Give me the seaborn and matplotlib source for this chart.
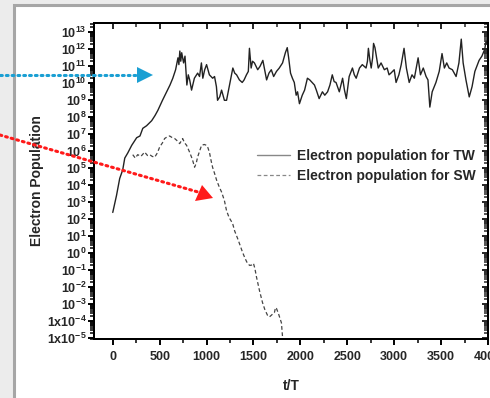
import numpy as np
import pandas as pd
import matplotlib
matplotlib.use("Agg")
import matplotlib.pyplot as plt
import seaborn as sns
from matplotlib.lines import Line2D
from matplotlib.patches import Rectangle, Polygon
from matplotlib.ticker import FixedLocator, FixedFormatter, MultipleLocator, NullFormatter

# ---- data: time in wave periods, log10 of electron population ----
tw_t = [0, 40, 74, 106, 128, 160, 202, 255, 290, 320, 360, 415, 450, 480, 530, 575, 610, 640,
        670, 695, 705, 715, 725, 735, 755, 770, 790, 805, 820, 840, 870, 905, 925, 945, 960,
        980, 1000, 1030, 1065, 1085, 1105, 1117, 1140, 1160, 1190, 1213, 1245, 1280, 1300,
        1320, 1350, 1380, 1400, 1425, 1445, 1457, 1475, 1490, 1510, 1545, 1570, 1600, 1640,
        1665, 1690, 1715, 1745, 1775, 1810, 1840, 1860, 1875, 1895, 1915, 1935, 1955, 1970,
        1990, 2020, 2045, 2075, 2100, 2125, 2150, 2170, 2200, 2235, 2260, 2290, 2315, 2340,
        2360, 2380, 2415, 2450, 2470, 2490, 2520, 2555, 2575, 2595, 2630, 2660, 2700, 2715,
        2725, 2740, 2755, 2770, 2780, 2795, 2810, 2830, 2860, 2895, 2925, 2945, 2965, 3000,
        3020, 3050, 3075, 3105, 3130, 3160, 3190, 3215, 3235, 3255, 3280, 3310, 3340, 3360,
        3380, 3405, 3445, 3480, 3510, 3535, 3560, 3585, 3620, 3660, 3690, 3715, 3735, 3765,
        3800, 3830, 3860, 3905, 3935, 3965, 3980, 4000]
tw_log = [2.4, 3.4, 4.4, 4.9, 5.6, 5.9, 6.35, 6.8, 6.9, 7.35, 7.5, 7.8, 8.1, 8.4, 9.0, 9.5, 9.9, 10.3,
          10.8, 11.5, 11.1, 11.9, 11.3, 11.8, 11.2, 11.6, 9.9, 10.5, 10.2, 9.6, 10.3, 10.6, 10.4, 11.2, 10.3,
          10.8, 11.1, 10.5, 10.3, 10.4, 9.8, 9.0, 9.2, 9.6, 9.0, 9.0, 9.9, 10.9, 10.6,
          10.5, 10.2, 10.05, 10.2, 10.5, 10.7, 12.06, 10.9, 11.3, 11.2, 10.8, 11.0, 11.35, 10.2,
          10.6, 10.8, 10.4, 10.7, 10.9, 11.2, 11.8, 12.1, 11.5, 10.6, 10.3, 10.05, 9.3, 9.5,
          8.8, 9.3, 9.6, 10.3, 10.2, 10.05, 9.9, 9.6, 9.1, 9.5, 9.3, 9.5, 9.9, 10.5,
          10.1, 10.05, 9.5, 10.3, 9.6, 9.1, 10.4, 10.9, 10.5, 10.3, 10.9, 11.1, 10.9, 11.3,
          12.06, 11.4, 10.9, 11.5, 12.35, 12.1, 11.6, 10.9, 11.2, 10.8, 10.9, 10.5, 10.6, 10.8,
          10.05, 10.5, 11.1, 12.06, 10.9, 10.05, 10.5, 10.3, 10.9, 11.5, 10.5, 10.9, 10.4, 10.2,
          8.6, 9.5, 10.05, 10.7, 11.75, 10.9, 11.2, 10.9, 10.8, 10.4, 11.2, 12.6, 11.2, 10.2,
          9.2, 9.8, 10.7, 11.35, 11.6, 12.0, 12.5, 12.2]

sw_t = [213, 240, 266, 300, 340, 370, 394, 420, 447, 475, 500, 530, 553, 580, 606, 635, 660, 690,
        713, 730, 745, 765, 787, 815, 840, 855, 872, 890, 904, 925, 947, 975, 1000, 1015, 1032,
        1050, 1064, 1085, 1107, 1135, 1160, 1190, 1213, 1240, 1277, 1300, 1330, 1355, 1383,
        1410, 1436, 1460, 1479, 1500, 1515, 1532, 1564, 1596, 1620, 1649, 1670, 1691, 1710,
        1723, 1735, 1745, 1766, 1798, 1810, 1820]
sw_log = [5.8, 5.6, 5.8, 5.7, 5.95, 5.75, 5.8, 5.7, 5.65, 5.9, 6.25, 6.5, 6.75, 6.85, 6.9, 6.8, 6.75, 6.6,
          6.45, 6.6, 6.75, 6.5, 6.35, 6.0, 5.65, 5.4, 5.06, 5.3, 5.65, 6.0, 6.35, 6.4, 6.35, 6.2, 5.9,
          5.4, 5.06, 4.7, 4.3, 3.9, 3.6, 3.1, 2.5, 2.1, 1.76, 1.3, 0.88, 0.5, 0.06,
          -0.3, -0.6, -0.72, -0.7, -0.6, -0.9, -1.4, -2.2, -2.9, -3.3, -3.65, -3.75, -3.65, -3.55,
          -3.5, -3.2, -3.25, -3.55, -4.1, -4.95, -5.3]

y_exponents = list(range(13, -6, -1))
y_labels = [r"$10^{%d}$" % e for e in range(13, -4, -1)] + [r"$1x10^{-4}$", r"$1x10^{-5}$"]
x_ticks = [0, 500, 1000, 1500, 2000, 2500, 3000, 3500, 4000]

# ---- style ----
sns.set_style("ticks")
plt.rcParams["font.family"] = ["Liberation Sans", "DejaVu Sans"]
plt.rcParams["font.weight"] = "bold"
plt.rcParams["mathtext.fontset"] = "custom"
plt.rcParams["mathtext.rm"] = "Liberation Sans:bold"
plt.rcParams["mathtext.it"] = "Liberation Sans:bold"
plt.rcParams["mathtext.bf"] = "Liberation Sans:bold"
plt.rcParams["mathtext.default"] = "rm"

tw = pd.DataFrame({"t": tw_t, "pop": np.power(10.0, tw_log)})
sw = pd.DataFrame({"t": sw_t, "pop": np.power(10.0, sw_log)})

fig = plt.figure(figsize=(4.9, 3.98), dpi=100)
fig.patch.set_facecolor("#ececec")

# slide panel behind the chart
fig.add_artist(Rectangle((14 / 490, -0.05), 1.1, (393 + 20) / 398, transform=fig.transFigure,
                         facecolor="white", edgecolor="#a6a6a6", linewidth=2.2, zorder=0))

ax = fig.add_axes([94 / 490, 59 / 398, 394 / 490, 316 / 398])
ax.set_facecolor("white")
ax.set_zorder(2)

sns.lineplot(data=tw, x="t", y="pop", ax=ax, color="#222222", linewidth=1.0,
             label="Electron population for TW")
sns.lineplot(data=sw, x="t", y="pop", ax=ax, color="#444444", linewidth=0.9,
             linestyle=(0, (3, 2)), label="Electron population for SW")

ylim = (10 ** -5.05, 10 ** 13.55)
xlim = (-200, 4000)
major_y = [10.0 ** e for e in y_exponents]
minor_y = [k * 10.0 ** e for e in range(-6, 14) for k in range(2, 10)]

ax.set_yscale("log")
ax.set_xlim(*xlim)
ax.set_ylim(*ylim)
ax.yaxis.set_major_locator(FixedLocator(major_y))
ax.yaxis.set_major_formatter(FixedFormatter(y_labels))
ax.yaxis.set_minor_locator(FixedLocator(minor_y))
ax.yaxis.set_minor_formatter(NullFormatter())
ax.xaxis.set_major_locator(FixedLocator(x_ticks))
ax.xaxis.set_minor_locator(MultipleLocator(250))

for s in ax.spines.values():
    s.set_visible(True)
    s.set_linewidth(1.4)
    s.set_color("black")

ax.tick_params(axis="both", which="major", labelsize=9, width=1.4, length=4.5, color="black",
               direction="out")
ax.tick_params(axis="both", which="minor", width=1.1, length=3, color="black", direction="out")
ax.tick_params(axis="y", pad=1)
ax.tick_params(axis="x", pad=4)
for lbl in ax.get_xticklabels() + ax.get_yticklabels():
    lbl.set_fontweight("bold")

# inward ticks along the right and top edges
axr = ax.twinx()
axr.set_yscale("log")
axr.set_ylim(*ylim)
axr.yaxis.set_major_locator(FixedLocator(major_y))
axr.yaxis.set_minor_locator(FixedLocator(minor_y))
axr.yaxis.set_major_formatter(NullFormatter())
axr.yaxis.set_minor_formatter(NullFormatter())
axr.tick_params(axis="y", which="major", direction="in", width=1.4, length=4.5)
axr.tick_params(axis="y", which="minor", direction="in", width=1.1, length=3)
axt = ax.twiny()
axt.set_xlim(*xlim)
axt.xaxis.set_major_locator(FixedLocator(x_ticks))
axt.xaxis.set_minor_locator(MultipleLocator(250))
axt.xaxis.set_major_formatter(NullFormatter())
axt.tick_params(axis="x", which="major", direction="in", width=1.4, length=4.5)
axt.tick_params(axis="x", which="minor", direction="in", width=1.1, length=3)
for a in (axr, axt):
    for s in a.spines.values():
        s.set_linewidth(1.4)
        s.set_color("black")

ax.set_xlabel("t/T", fontsize=10, fontweight="bold", labelpad=12)
ax.set_ylabel("Electron Population", fontsize=10, fontweight="bold", labelpad=2)

leg = ax.legend(loc="upper left", bbox_to_anchor=(250 / 490, (398 - 142) / 398),
                bbox_transform=fig.transFigure, frameon=False, fontsize=10,
                handlelength=2.4, handletextpad=0.5, labelspacing=0.45, borderpad=0)
for txt in leg.get_texts():
    txt.set_fontweight("bold")
leg.get_lines()[0].set_color("#888888")
leg.get_lines()[1].set_color("#888888")

# pointer arrows on the slide
H = 398.0
def fig_px(x, y):
    return (x / 490.0, (H - y) / H)

blue = "#1a9fd3"
red = "#ff1a1a"
fig.add_artist(Line2D([0, 138 / 490], [(H - 75) / H] * 2, transform=fig.transFigure,
                      color=blue, linewidth=2.2, linestyle=(0, (0.6, 1.3)),
                      dash_capstyle="round", zorder=5))
fig.add_artist(Polygon([fig_px(137, 67), fig_px(153, 75), fig_px(137, 83)], closed=True,
                       transform=fig.transFigure, facecolor=blue, edgecolor="none", zorder=5))
fig.add_artist(Line2D([0, 198 / 490], [(H - 135) / H, (H - 192) / H], transform=fig.transFigure,
                      color=red, linewidth=2.2, linestyle=(0, (0.6, 1.3)),
                      dash_capstyle="round", zorder=5))
fig.add_artist(Polygon([fig_px(195, 201), fig_px(213, 198), fig_px(202, 185)], closed=True,
                       transform=fig.transFigure, facecolor=red, edgecolor="none", zorder=5))

fig.savefig("out.png", dpi=100, facecolor=fig.get_facecolor())
